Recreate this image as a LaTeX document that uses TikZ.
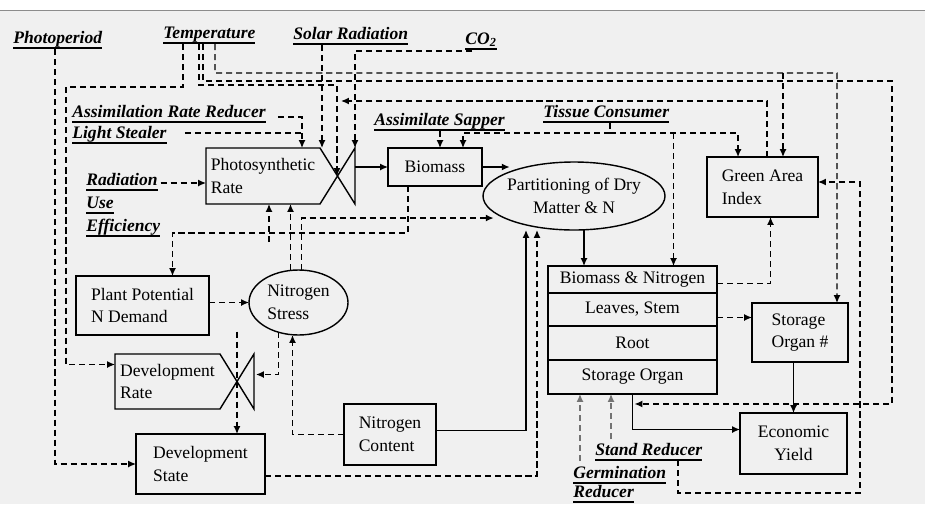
\documentclass[tikz,border=0pt]{standalone}
\usepackage{fontspec}
\setmainfont{Liberation Serif}
\usepackage{tikz}
\usetikzlibrary{arrows.meta,positioning,calc,shapes.geometric}

\newsavebox{\facbox}
\newcommand{\facul}[1]{\sbox{\facbox}{#1}\rlap{\usebox{\facbox}}\rule[-3.2pt]{\wd\facbox}{1.1pt}}

\begin{document}
\begin{tikzpicture}[x=0.02cm, y=-0.02cm, >={Latex[length=4.5pt,width=4pt]}, font=\fontsize{10}{13}\selectfont]
    \tikzset{
      rectnode/.style={rectangle,draw=black,thick,inner sep=2pt,outer sep=0pt,align=left},
      rownode/.style={rectangle,draw=black,thick,inner sep=0pt,outer sep=0pt,minimum width=3.38cm,align=center},
      ovalnode/.style={ellipse,draw=black,thick,inner sep=0pt,outer sep=0pt,align=left},
      factor/.style={font=\fontsize{10}{13}\selectfont\bfseries\itshape,inner sep=0pt,align=left},
      dashline/.style={thick,dash pattern=on 3.5pt off 2.2pt},
      arrow/.style={->,thick},
      darrow/.style={->,thick,dash pattern=on 3.5pt off 2.2pt}
    }
    \useasboundingbox (0,0) rectangle (925,504);
    \fill[black!6] (0,10) rectangle (925,504);
    \draw[black!45,line width=0.5pt] (0,10) -- (925,10);

    \node[rectnode,draw=none,minimum width=2.28cm,minimum height=1.12cm](photo) at (263,176){Photosynthetic\\Rate};
    \draw[thick](photo.north west) -- (photo.north east) -- ($(photo.south east)+(35,0)$) -- ($(photo.north east)+(35,0)$) -- (photo.south east) -- (photo.south west) -- cycle;
    \node[rectnode,draw=none,minimum width=2.1cm,minimum height=1.1cm](devrate) at (167.5,381.5){Development\\Rate};
    \draw[thick](devrate.north west) -- (devrate.north east) -- ($(devrate.south east)+(34,0)$) -- ($(devrate.north east)+(34,0)$) -- (devrate.south east) -- (devrate.south west) -- cycle;
    \node[rectnode,minimum width=1.88cm,minimum height=0.76cm](biomass) at (435,167){Biomass};
    \node[ovalnode,align=center,inner xsep=-2pt,minimum width=3.64cm,minimum height=1.36cm](partition) at (574,196){Partitioning of Dry\\Matter \& N};
    \node[rectnode,minimum width=2.22cm,minimum height=1.2cm](gai) at (762.5,187){Green Area\\Index};
    \node[rownode,minimum height=0.54cm](bionit) at (632.5,279.5){Biomass \& Nitrogen};
    \node[rownode,minimum height=0.66cm,below=0pt of bionit](leaves){Leaves, Stem};
    \node[rownode,minimum height=0.68cm,below=0pt of leaves](root){Root};
    \node[rownode,minimum height=0.68cm,below=0pt of root](storage){Storage Organ};
    \node[rectnode,minimum width=1.92cm,minimum height=1.18cm](organ) at (800,332.5){Storage\\Organ \#};
    \node[rectnode,align=center,minimum width=2.14cm,minimum height=1.22cm](yield) at (793.5,443.5){Economic\\Yield};
    \node[rectnode,minimum width=2.66cm,minimum height=1.18cm](demand) at (142.5,305.5){Plant Potential\\N Demand};
    \node[ovalnode,minimum width=1.98cm,minimum height=1.3cm](nstress) at (298.5,302.5){Nitrogen\\Stress};
    \node[rectnode,minimum width=1.84cm,minimum height=1.22cm](ncontent) at (390,434.5){Nitrogen\\Content};
    \node[rectnode,minimum width=2.58cm,minimum height=1.2cm](devstate) at (200.5,464){Development\\State};

    \node[factor,anchor=base west](photoperiod) at (13,43){\facul{Photoperiod}};
    \node[factor,anchor=base west](temperature) at (163,38){\facul{Temperature}};
    \node[factor,anchor=base west](solar) at (293,39){\facul{Solar Radiation}};
    \node[factor,anchor=base west](co2) at (465,44){\facul{CO\textsubscript{2}}};
    \node[factor,anchor=base west](assimrate) at (72,117){\facul{Assimilation Rate Reducer}};
    \node[factor,anchor=base west](lightst) at (72,138){\facul{Light Stealer}};
    \node[factor,anchor=base west](sapper) at (374,125){\facul{Assimilate Sapper}};
    \node[factor,anchor=base west](tissue) at (543,117){\facul{Tissue Consumer}};
    \node[factor,anchor=north west](rue) at (86,173){\facul{Radiation}\\\facul{Use}\\\facul{Efficiency}};
    \node[factor,anchor=base west](stand) at (595,455){\facul{Stand Reducer}};
    \node[factor,anchor=north west,font=\fontsize{10}{10.8}\selectfont\bfseries\itshape](germ) at (573,466){\facul{Germination}\\\facul{Reducer}};

    \coordinate (photov) at ($(photo.east)+(17,0)$);
    \coordinate (photot) at ($(photo.north east)+(35,0)$);
    \coordinate (devratev) at ($(devrate.east)+(17,0)$);
    \coordinate (storkink) at ($(storage.south)+(2,10)$);
    \coordinate (solartap) at ($(solar.base west)+(29,6)$);
    \coordinate (arrtap) at ($(photo.north)+(39,0)$);
    \coordinate (saptap) at ($(sapper.base west)+(66,6)$);
    \coordinate (tissuej) at ($(tissue.base west)+(67,16)$);
    \coordinate (bntap) at ($(bionit.north)+(41,0)$);
    \coordinate (nsa) at ($(nstress.north)+(-8,0)$);
    \coordinate (nsb) at ($(nstress.north)+(3,0)$);
    \coordinate (nsc) at ($(nstress.south)+(-20,-3)$);
    \coordinate (partout) at ($(partition.south)+(10,0)$);
    \coordinate (lvout) at ($(leaves.east)+(0,8)$);
    \coordinate (germtap) at ($(germ.north west)+(7,-5)$);
    \coordinate (standtap) at ($(stand.base west)+(16,-16)$);

    \draw[darrow]($(photoperiod.base west)+(42,6)$) |- (devstate.west);
    \draw[darrow]($(temperature.base west)+(20,6)$) |- (66,87) |- ($(devrate.west)+(0,-17)$);
    \draw[darrow]($(temperature.base west)+(36,6)$) |- (photov |- 0,85) -- (photov);
    \draw[darrow]($(temperature.base west)+(40,6)$) |- (892,81) |- (storkink);
    \draw[darrow]($(temperature.base west)+(52,6)$) |- (837,73) -- ($(organ.north east)+(-11,0)$);
    \draw[darrow](783,73) -- (gai.north -| 783,0);
    \draw[darrow](solartap) -- (solartap |- photo.north);
    \draw[darrow]($(co2.base west)+(7,7)$) -| (photot);
    \draw[darrow]($(gai.north west)+(60,0)$) |- (341,101);
    \draw[darrow]($(assimrate.base east)+(12,0)$) -| (arrtap);
    \draw[dashline]($(lightst.base east)+(18,-5)$) -| ($(arrtap)+(0,-14)$);
    \draw[darrow](rue.east |- 0,183) -- (photo.west |- 0,183);
    \draw[arrow](biomass.west -| photot) -- (biomass.west);
    \draw[arrow](biomass.east) -- (biomass.east -| partition.north west);
    \draw[darrow](saptap) -- (saptap |- biomass.north);
    \draw[dashline]($(tissue.base west)+(67,6)$) -- (tissuej);
    \draw[darrow](tissuej) -| ($(biomass.north)+(28,0)$);
    \draw[darrow](tissuej) -| ($(gai.north west)+(31,0)$);
    \draw[darrow](tissuej -| bntap) -- (bntap);
    \draw[darrow]($(biomass.south west)+(20,0)$) -- ++(0,47) -| ($(demand.north)+(30,0)$);
    \draw[darrow]($(photo.south)+(6,38)$) -- ($(photo.south)+(6,0)$);
    \draw[darrow](nsa) -- (nsa |- photo.south);
    \draw[darrow](nsb) |- ($(partition.south west)+(-16,-2)$);
    \draw[darrow](demand.east |- nstress.west) -- (nstress.west);
    \draw[darrow](nsc) |- ($(devratev)+(19,-7)$);
    \draw[darrow](ncontent.west) -| ($(nstress.south)+(-6,0)$);
    \draw[arrow]($(ncontent.east)+(0,-4)$) -| ($(partition.south)+(-48,0)$);
    \draw[darrow]($(devstate.east)+(0,12)$) -| ($(partition.south)+(-37,0)$);
    \draw[darrow]($(devratev)+(0,-50)$) -- (devratev |- devstate.north);
    \draw[arrow](partout) -- (partout |- bionit.north);
    \draw[darrow]($(bionit.east)+(0,4)$) -| ($(gai.south)+(8,0)$);
    \draw[darrow](lvout) -- (lvout -| organ.west);
    \draw[arrow](organ.south -| yield.north) -- (yield.north);
    \draw[arrow](storage.south) |- ($(yield.west)+(0,-14)$);
    \draw[darrow,black!55](germtap) -- (germtap |- storage.south);
    \draw[darrow,black!55](standtap) -- (standtap |- storage.south);
    \draw[darrow]($(stand.base west)+(83,5)$) |- (860,493) |- ($(gai.east)+(0,-5)$);
\end{tikzpicture}
\end{document}
